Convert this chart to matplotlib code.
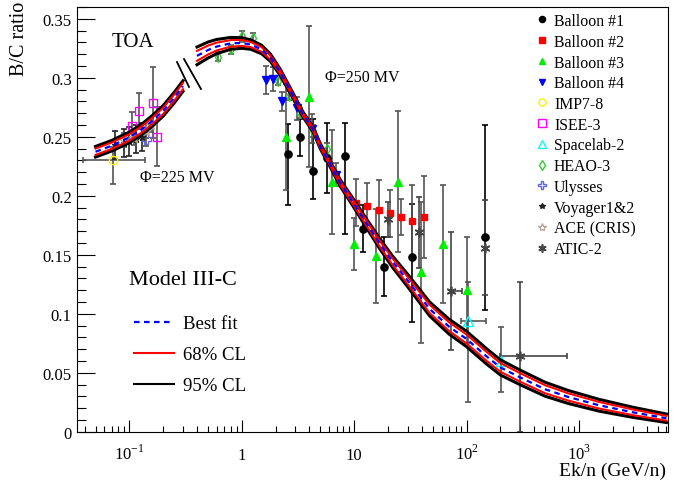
import matplotlib
matplotlib.use("Agg")
import matplotlib.pyplot as plt
from matplotlib.lines import Line2D
from matplotlib.ticker import FixedLocator, MultipleLocator, NullFormatter
import numpy as np

plt.rcParams['font.family'] = ['Liberation Serif', 'DejaVu Serif']
plt.rcParams['mathtext.fontset'] = 'custom'
plt.rcParams['mathtext.rm'] = 'Liberation Serif'

# model curves (best fit + half widths of the 68% / 95% bands)
e_left = [0.05, 0.07, 0.1, 0.13, 0.16, 0.2, 0.25, 0.3]
fit_left = [0.2373, 0.2425, 0.2495, 0.2565, 0.2635, 0.2720, 0.2830, 0.2930]
w68_left = [0.0027, 0.0027, 0.0027, 0.0027, 0.0027, 0.0027, 0.0027, 0.0027]
w95_left = [0.0045, 0.0045, 0.0045, 0.0045, 0.0045, 0.0045, 0.0045, 0.0045]

e_right = [0.4, 0.5, 0.6, 0.8, 1.0, 1.2, 1.5, 1.8, 2.2, 2.6, 3.0, 3.5, 4.3, 5.0, 6.1, 7.5,
           10, 13, 17, 22, 30, 47, 70, 100, 150, 200, 300, 500, 800, 1500, 3000, 6000]
fit_right = [0.3186, 0.3235, 0.3265, 0.3292, 0.3295, 0.3282, 0.3240, 0.3170, 0.3046, 0.2920,
             0.2810, 0.2690, 0.2565, 0.2420, 0.2270, 0.2110, 0.1930, 0.1760, 0.1590, 0.1440,
             0.1280, 0.1040, 0.0890, 0.0786, 0.0640, 0.0545, 0.0460, 0.0360, 0.0295, 0.0225,
             0.0165, 0.0114]
w68_right = [0.0042, 0.0038, 0.0033, 0.0028, 0.0025, 0.0022, 0.0020, 0.0017, 0.0015, 0.0013,
             0.0012, 0.0012, 0.0012, 0.0013, 0.0014, 0.0016, 0.0019, 0.0022, 0.0025, 0.0028,
             0.0031, 0.0035, 0.0037, 0.0038, 0.0038, 0.0037, 0.0036, 0.0034, 0.0031, 0.0028,
             0.0024, 0.0020]
w95_right = [0.0075, 0.0068, 0.0060, 0.0050, 0.0045, 0.0040, 0.0036, 0.0031, 0.0027, 0.0024,
             0.0022, 0.0021, 0.0021, 0.0022, 0.0024, 0.0028, 0.0033, 0.0038, 0.0043, 0.0048,
             0.0053, 0.0059, 0.0063, 0.0065, 0.0065, 0.0064, 0.0062, 0.0059, 0.0055, 0.0050,
             0.0043, 0.0036]

# data sets
b1_e = [2.59, 3.29, 4.29, 5.68, 8.26, 11.9, 18.5, 33.0, 147.0]
b1_y = [0.235, 0.250, 0.221, 0.232, 0.234, 0.172, 0.140, 0.148, 0.165]
b1_lo = [0.043, 0.016, 0.024, 0.030, 0.066, 0.020, 0.025, 0.055, 0.062]
b1_hi = [0.026, 0.015, 0.044, 0.030, 0.028, 0.020, 0.025, 0.045, 0.095]

b2_e = [10.4, 13.1, 16.5, 20.9, 26.0, 32.8, 41.7]
b2_y = [0.194, 0.191, 0.188, 0.185, 0.182, 0.179, 0.182]
b2_err = [0.020, 0.020, 0.025, 0.020, 0.015, 0.030, 0.035]

b3_e = [2.5, 3.98, 6.3, 10.0, 15.8, 24.8, 39.7, 61.8, 100.0]
b3_y = [0.250, 0.284, 0.212, 0.159, 0.149, 0.212, 0.135, 0.159, 0.120]
b3_err = [0.045, 0.060, 0.044, 0.022, 0.040, 0.060, 0.060, 0.050, 0.045]

b4_e = [1.66, 1.9, 2.29, 3.07, 4.18, 6.87]
b4_y = [0.298, 0.299, 0.280, 0.274, 0.257, 0.218]
b4_err = [0.012, 0.010, 0.008, 0.010, 0.012, 0.010]

imp_e = [0.072]
imp_y = [0.230]
imp_ylo = [0.020]
imp_yhi = [0.011]
imp_xlo = [0.0335]
imp_xhi = [0.066]

isee_e = [0.105, 0.123, 0.163, 0.178]
isee_y = [0.259, 0.272, 0.279, 0.250]
isee_err = [0.012, 0.015, 0.030, 0.025]

sl_e = [102.0, 204.0]
sl_y = [0.094, 0.060]
sl_lo = [0.069, 0.026]
sl_hi = [0.033, 0.029]
sl_xlo = [12.0, 0.0]
sl_xhi = [48.0, 0.0]

heao_e = [0.62, 0.80, 1.0, 1.27, 2.11, 2.64, 3.29, 4.27, 5.68]
heao_y = [0.318, 0.324, 0.335, 0.334, 0.2975, 0.2848, 0.270, 0.255, 0.2396]
heao_err = [0.004, 0.004, 0.005, 0.004, 0.004, 0.004, 0.004, 0.005, 0.005]

uly_e = [0.141]
uly_y = [0.248]
uly_err = [0.006]

voy_e = [0.075, 0.09, 0.1, 0.115, 0.13]
voy_y = [0.243, 0.245, 0.246, 0.248, 0.250]
voy_err = [0.012, 0.012, 0.012, 0.012, 0.012]

ace_e = [0.09, 0.11, 0.14, 0.155]
ace_y = [0.247, 0.249, 0.255, 0.260]
ace_err = [0.006, 0.006, 0.006, 0.006]

atic_e = [20.0, 37.9, 73.0, 147.0, 297.0]
atic_y = [0.180, 0.169, 0.119, 0.156, 0.064]
atic_lo = [0.015, 0.030, 0.050, 0.040, 0.064]
atic_hi = [0.015, 0.030, 0.050, 0.040, 0.063]
atic_xlo = [0.0, 0.0, 0.0, 0.0, 99.0]
atic_xhi = [0.0, 0.0, 19.0, 0.0, 479.0]

fig = plt.figure(figsize=(6.89, 4.85), dpi=100)
ax = fig.add_axes([0.1113, 0.1078, 0.8577, 0.8757])
ax.set_xscale('log')
ax.set_xlim(0.034, 6150)
ax.set_ylim(0, 0.36)

grey = '#555555'
ekw = dict(elinewidth=1.2, capsize=2, capthick=1.2, linestyle='none')

sets = []
sets.append(ax.errorbar(b1_e, b1_y, yerr=[b1_lo, b1_hi], fmt='o', color='black', ecolor='black', ms=5.2,
                        label='Balloon #1', **ekw))
sets.append(ax.errorbar(b2_e, b2_y, yerr=b2_err, fmt='s', color='red', ecolor=grey, ms=5,
                        label='Balloon #2', **ekw))
sets.append(ax.errorbar(b3_e, b3_y, yerr=b3_err, fmt='^', color='#00ee00', ecolor=grey, ms=5.5,
                        label='Balloon #3', **ekw))
sets.append(ax.errorbar(b4_e, b4_y, yerr=b4_err, fmt='v', color='blue', ecolor=grey, ms=5.5,
                        label='Balloon #4', **ekw))
sets.append(ax.errorbar(imp_e, imp_y, yerr=[imp_ylo, imp_yhi], xerr=[imp_xlo, imp_xhi], fmt='o', mfc='none',
                        mec='#ffee00', ecolor=grey, ms=6, label='IMP7-8', **ekw))
sets.append(ax.errorbar(isee_e, isee_y, yerr=isee_err, fmt='s', mfc='none', mec='magenta', ecolor=grey, ms=6,
                        label='ISEE-3', **ekw))
sets.append(ax.errorbar(sl_e, sl_y, yerr=[sl_lo, sl_hi], xerr=[sl_xlo, sl_xhi], fmt='^', mfc='none', mec='cyan',
                        ecolor=grey, ms=6.5, label='Spacelab-2', **ekw))
sets.append(ax.errorbar(heao_e, heao_y, yerr=heao_err, fmt='d', mfc='none', mec='#33cc33', ecolor=grey, ms=5.5,
                        label='HEAO-3', **ekw))
sets.append(ax.errorbar(uly_e, uly_y, yerr=uly_err, fmt='P', mfc='none', mec='#6666dd', ecolor=grey, ms=6.5,
                        label='Ulysses', **ekw))
sets.append(ax.errorbar(voy_e, voy_y, yerr=voy_err, fmt='*', color='#222222', ecolor='#222222', ms=5,
                        label='Voyager1&2', **ekw))
sets.append(ax.errorbar(ace_e, ace_y, yerr=ace_err, fmt='*', mfc='none', mec='#b8a898', ecolor=grey, ms=7,
                        label='ACE (CRIS)', **ekw))
sets.append(ax.errorbar(atic_e, atic_y, yerr=[atic_lo, atic_hi], xerr=[atic_xlo, atic_xhi], fmt='',
                        marker=(6, 2, 0), color='#444444', ecolor='#444444', ms=7, mew=1.2, label='ATIC-2', **ekw))

# model bands
for e, fit, w68, w95 in [(e_left, fit_left, w68_left, w95_left), (e_right, fit_right, w68_right, w95_right)]:
    e = np.array(e)
    fit = np.array(fit)
    w68 = np.array(w68)
    w95 = np.array(w95)
    ax.plot(e, fit + w95, color='black', lw=2.2, zorder=5)
    ax.plot(e, fit - w95, color='black', lw=2.2, zorder=5)
    ax.plot(e, fit + w68, color='red', lw=1.5, zorder=6)
    ax.plot(e, fit - w68, color='red', lw=1.5, zorder=6)
    ax.plot(e, fit, color='blue', lw=1.6, ls=(0, (2.5, 2)), zorder=7)

# break mark between the two modulation levels
for x0, y0, x1, y1 in [(177.0, 63.0, 189.0, 88.0), (184.0, 60.0, 201.0, 90.0)]:
    fig.add_artist(Line2D([x0 / 689, x1 / 689], [1 - y0 / 485, 1 - y1 / 485], color='black', lw=1.3))

# axes styling
ax.xaxis.set_major_locator(FixedLocator([0.1, 1, 10, 100, 1000]))
ax.set_xticklabels(['$10^{-1}$', '1', '10', '$10^{2}$', '$10^{3}$'])
minors = [m * 10.0 ** k for k in range(-2, 4) for m in range(2, 10)]
ax.xaxis.set_minor_locator(FixedLocator(minors))
ax.xaxis.set_minor_formatter(NullFormatter())
ax.yaxis.set_minor_locator(MultipleLocator(0.01))
ax.set_yticks([0, 0.05, 0.1, 0.15, 0.2, 0.25, 0.3, 0.35])
ax.set_yticklabels(['0', '0.05', '0.1', '0.15', '0.2', '0.25', '0.3', '0.35'])
ax.tick_params(axis='x', which='major', direction='in', length=8.6, width=0.8, pad=19.5, labelsize=12)
ax.tick_params(axis='x', which='minor', direction='in', length=4.5, width=0.8)
ax.tick_params(axis='y', which='major', direction='in', length=13, width=0.8, pad=3.6, labelsize=12)
ax.tick_params(axis='y', which='minor', direction='in', length=6.5, width=0.8)
for s in ax.spines.values():
    s.set_linewidth(0.8)

fig.text(19 / 689, 1 - 2 / 485, 'B/C ratio', rotation=90, ha='center', va='top', fontsize=14.5)
fig.text(666 / 689, 1 - 476 / 485, 'Ek/n (GeV/n)', ha='right', va='baseline', fontsize=14)

fig.text(111.7 / 689, 1 - 47 / 485, 'TOA', ha='left', va='baseline', fontsize=15)
fig.text(140 / 689, 1 - 181.7 / 485, 'Φ=225 MV', ha='left', va='baseline', fontsize=11.5)
fig.text(325 / 689, 1 - 81.7 / 485, 'Φ=250 MV', ha='left', va='baseline', fontsize=11.5)
fig.text(129.3 / 689, 1 - 285 / 485, 'Model III-C', ha='left', va='baseline', fontsize=16)

# legends
handles = [c[0] for c in sets]
labels = [c.get_label() for c in sets]
leg1 = ax.legend(handles, labels, loc='upper left', bbox_to_anchor=(533.8 / 689, 1 - 14 / 485),
                 bbox_transform=fig.transFigure, frameon=False, fontsize=11.4, handlelength=1.0,
                 handletextpad=0.28, labelspacing=0.3, borderpad=0, borderaxespad=0, markerscale=0.85)
ax.add_artist(leg1)

line_handles = [Line2D([], [], color='blue', lw=1.6, ls=(0, (2.5, 2))),
                Line2D([], [], color='red', lw=1.5),
                Line2D([], [], color='black', lw=1.5)]
ax.legend(line_handles, ['Best fit', '68% CL', '95% CL'], loc='upper left',
          bbox_to_anchor=(134.3 / 689, 1 - 316 / 485), bbox_transform=fig.transFigure,
          frameon=False, fontsize=13.5, handlelength=2.12, handletextpad=0.46, labelspacing=0.74,
          borderpad=0, borderaxespad=0)

for lab in ax.get_xticklabels():
    lab.set_verticalalignment('baseline')

fig.savefig('out.png', dpi=100)
